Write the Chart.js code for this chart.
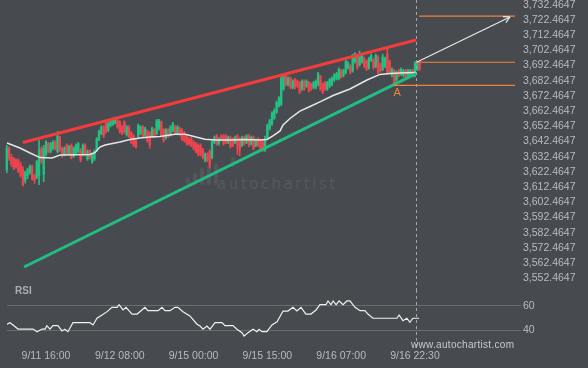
<!DOCTYPE html>
<html>
<head>
<meta charset="utf-8">
<script src="https://cdn.jsdelivr.net/npm/chart.js@4.4.1/dist/chart.umd.min.js"></script>
<style>
  html, body { margin: 0; padding: 0; background: #474a4f; }
  #wrap { position: relative; width: 588px; height: 368px; overflow: hidden; background: #474a4f;
          font-family: "Liberation Sans", Arial, sans-serif; }
  canvas { position: absolute; left: 0; }
  #main { top: 0; }
  #rsi { top: 290px; }
  .txt { position: absolute; white-space: nowrap; }
  #watermark { left: 217px; top: 175px; font: 15px "DejaVu Sans"; letter-spacing: 2.5px; color: #56595e; line-height: 18px; }
  .logo { position: absolute; width: 4px; background: #53565b; border-radius: 2px; }
  #rsiTitle { left: 15px; top: 285px; font-weight: bold; font-size: 10px; line-height: 12px; color: #a9acb1; }
  #site { left: 411px; top: 339px; font-size: 10px; line-height: 12px; letter-spacing: 0.3px; color: #c8cacd; }
</style>
</head>
<body>
<div id="wrap">
  <div class="logo" style="left:186px;top:178px;height:7px"></div>
  <div class="logo" style="left:193px;top:173px;height:12px"></div>
  <div class="logo" style="left:200px;top:168px;height:17px"></div>
  <div class="logo" style="left:207px;top:165px;height:20px"></div>
  <div class="logo" style="left:214px;top:163px;height:22px"></div>
  <div class="logo" style="left:231px;top:157px;height:10px"></div>
  <div id="watermark" class="txt">autochartist</div>
  <canvas id="main" width="588" height="290"></canvas>
  <canvas id="rsi" width="588" height="78"></canvas>
  <div id="rsiTitle" class="txt">RSI</div>
  <div id="site" class="txt">www.autochartist.com</div>
</div>
<script>
// time axis (30 min bars, index based)
const tickIndex  = [17, 49, 81, 113, 145, 177];
const tickLabels = ["9/11 16:00", "9/12 08:00", "9/15 00:00", "9/15 15:00", "9/16 07:00", "9/16 22:30"];
const priceTicks = [3552.4647, 3562.4647, 3572.4647, 3582.4647, 3592.4647, 3602.4647, 3612.4647,
  3622.4647, 3632.4647, 3642.4647, 3652.4647, 3662.4647, 3672.4647, 3682.4647, 3692.4647,
  3702.4647, 3712.4647, 3722.4647, 3732.4647];
const rsiTicks = [40, 60];

// open, high, low, close
const candles = [
  [3624,3640,3622,3638],[3638,3639,3630,3632],[3632,3634,3626,3628],[3631,3632,3624,3625],[3630,3631,3625,3626],
  [3630,3631,3622,3623],[3627,3629,3619,3620],[3624,3626,3613,3614],[3617,3623,3615,3622],[3620,3625,3618,3624],
  [3622,3627,3621,3626],[3626,3627,3617,3618],[3620,3621,3615,3617],[3619,3630,3618,3629],[3620,3643,3614,3637],
  [3637,3639,3628,3630],[3621,3640,3616,3638],[3634,3643,3633,3642],[3641,3642,3635,3636],[3636,3642,3635,3641],
  [3638,3643,3637,3642],[3642,3643,3637,3638],[3636,3649,3635,3646],[3645,3646,3636,3637],[3638,3639,3632,3633],
  [3634,3639,3633,3638],[3640,3641,3634,3635],[3635,3640,3634,3639],[3640,3641,3631,3632],[3633,3639,3632,3638],
  [3635,3641,3634,3640],[3636,3642,3635,3641],[3637,3638,3629,3630],[3634,3641,3633,3640],[3640,3641,3633,3634],
  [3631,3637,3630,3636],[3636,3637,3631,3632],[3629,3635,3628,3634],[3631,3637,3630,3636],[3637,3645,3636,3644],
  [3644,3650,3643,3649],[3648,3653,3647,3652],[3652,3653,3645,3646],[3654,3655,3648,3649],[3650,3655,3649,3654],
  [3653,3657,3652,3656],[3654,3658,3653,3657],[3655,3658.5,3654,3658],[3656,3657,3651,3652],[3655,3656,3648,3649],
  [3652,3653,3647,3648],[3655,3656,3648,3649],[3647,3653,3646,3652],[3652,3653,3645,3646],[3648,3649,3641,3642],
  [3646,3647,3639,3640],[3643,3644,3638,3639],[3646,3654,3645,3653],[3648,3653,3647,3652],[3652,3653,3645,3646],
  [3647,3652,3646,3651],[3649,3650,3642,3643],[3648,3649,3638,3640],[3646,3652,3645,3651],[3650,3651,3645,3646],
  [3648,3657,3647,3656],[3651,3657,3650,3656],[3655,3656,3646,3647],[3650,3651,3642,3643],[3645,3651,3644,3650],
  [3650,3651,3645,3646],[3647,3653,3646,3652],[3650,3655,3649,3654],[3652,3653,3647,3648],[3648,3653,3647,3652],
  [3651,3652,3646,3647],[3650,3651,3643,3644],[3648,3649,3642,3643],[3646,3647,3640,3641],[3644,3645,3640,3641],
  [3644,3645,3639,3640],[3642,3643,3637,3638],[3641,3642,3635,3636],[3640,3641,3633,3634],[3640,3641,3633,3634],
  [3637,3638,3631,3632],[3630,3635,3629,3634],[3634,3635,3629,3630],[3636,3637,3625,3627],[3632,3643,3631,3642],
  [3642,3646,3641,3645],[3646,3647,3640,3641],[3641,3645,3640,3644],[3646,3647,3643,3644],[3646,3647,3640,3641],
  [3646,3647,3641,3642],[3642,3646,3641,3645],[3645,3646,3638,3639],[3644,3645,3639,3640],[3642,3646,3641,3645],
  [3646,3647,3634,3640],[3644,3645,3633,3637],[3640,3646,3639,3645],[3645,3646,3640,3641],[3642,3647,3641,3646],
  [3646,3647,3639,3640],[3641,3646,3640,3645],[3645,3646,3637,3638],[3640,3644,3639,3643],[3644,3645,3639,3640],
  [3643,3644,3637,3638],[3642,3643,3636,3637],[3637,3646,3636,3645],[3645,3654,3644,3653],[3651,3657,3650,3656],
  [3654,3662,3653,3661],[3658,3664,3657,3663],[3662,3669,3661,3668],[3666,3672,3665,3671],[3667,3686,3666,3684],
  [3677,3686.5,3676,3685],[3686,3687,3679,3680],[3680,3685,3679,3684],[3684,3685,3677,3678],[3678,3683,3677,3682],
  [3683,3684,3677,3678],[3682,3683,3678,3679],[3681,3682,3674,3675],[3677,3683,3676,3682],[3682,3683,3676,3677],
  [3679,3683,3678,3682],[3681,3682,3675,3676],[3680,3681,3676,3677],[3678,3682,3677,3681],[3678,3683,3677,3682],
  [3680,3688,3679,3687],[3685,3686,3676,3677],[3680,3681,3674,3675],[3681,3682,3676,3677],[3677,3682,3676,3681],
  [3679,3684,3678,3683],[3680,3685,3679,3684],[3683,3687,3682,3686],[3684,3688,3683,3687],[3684,3691,3683,3690],
  [3689,3690,3684,3685],[3686,3690,3685,3689],[3688,3697,3687,3695],[3691,3695,3690,3694],[3692,3693,3687,3688],
  [3689,3700,3688,3699],[3695,3701,3694,3700],[3699,3700,3690,3691],[3693,3702,3692,3700],[3695,3700,3694,3699],
  [3697,3698,3691,3692],[3695,3696,3689,3690],[3691,3698,3690,3697],[3696,3700,3695,3699],[3696,3697,3690,3691],
  [3692,3700,3691,3699],[3698,3699,3687,3688],[3693,3694,3688,3689],[3690,3700,3689,3698],[3692,3698,3691,3697],
  [3700,3704,3687,3688],[3695,3696,3687,3688],[3686,3691,3685,3690],[3689,3690,3679.5,3681],[3683,3689,3682,3688],
  [3689,3690,3685,3686],[3687,3691,3686,3690],[3686,3690,3685,3689],[3689,3690,3685,3686],[3686,3690,3685,3689],
  [3687,3690,3686,3689],[3689,3690,3685,3686],[3687,3695,3685,3694],[3690,3695,3689,3694],[3694,3695,3689,3690]
];

// moving average (bar index, price)
const maX = [0.1,5.7,10.1,14.4,19.6,23.1,36.1,38.2,40.4,42.6,49.1,53.4,57.8,62.1,66.4,72.9,77.3,81.6,85.9,90.3,
  96.8,103.3,109.8,112.8,115.4,118.5,119.8,122.8,127.1,131.5,135.8,141.5,148.8,156.2,161.8,166.2,170.5,177.5];
const maY = [3641.5,3638.2,3634.9,3631.9,3631.6,3633.6,3633.9,3635.1,3638.8,3640.2,3642.1,3643.8,3644.8,3645.4,
  3645.8,3647.2,3647.2,3645.6,3643.9,3643.5,3643.5,3643.8,3643.5,3643.8,3646.1,3649.4,3653.3,3657.6,3662.5,
  3665.5,3668.5,3672.7,3677.0,3682.9,3686.6,3687.2,3687.5,3687.9];

// RSI (bar index, value)
const rsiX = [0.1,1.4,2.7,4.9,11.4,13.1,15.3,16.6,17.4,18.7,20.0,22.2,23.9,25.2,26.5,28.7,36.1,37.4,39.1,41.3,
  43.5,45.6,47.8,48.7,50.4,51.7,54.3,56.5,58.6,59.9,61.2,65.6,67.3,68.6,70.8,72.9,74.2,76.4,79.4,82.5,
  83.8,85.1,86.8,88.1,90.3,93.3,94.6,98.1,99.8,102.0,102.9,104.6,106.8,108.5,109.4,110.7,112.8,115.0,117.2,119.8,
  121.9,124.1,125.8,127.6,129.7,131.9,134.1,135.8,138.4,139.3,140.6,141.5,142.8,144.1,145.8,147.5,148.8,151.0,153.2,155.3,
  156.6,158.8,169.2,170.1,171.8,173.5,174.8,176.1,178.8];
const rsiY = [44.8,46.1,44.2,40.8,40.8,38.6,40.8,40.8,43.6,40.8,43.6,43.6,39.2,40.6,38.6,46.1,46.1,44.2,49.8,52.5,
  55.3,58.9,58.9,61.1,56.7,58.9,53.3,53.3,56.7,58.9,56.1,56.1,58.9,56.1,56.1,58.9,58.9,55.3,51.7,44.8,
  43.3,40.6,43.3,40.6,46.1,46.1,43.6,43.6,40.6,37.8,35.0,37.8,40.6,38.6,40.6,38.6,38.6,44.2,46.9,55.8,
  55.8,58.9,55.8,58.9,53.3,53.3,56.7,61.1,61.1,64.2,61.1,64.2,61.1,64.2,61.1,64.2,64.2,58.9,56.1,56.1,
  53.3,49.8,49.8,52.5,47.8,49.8,46.4,49.8,49.8];

// rising wedge pattern
const resistance = [[7.0, 3641.8], [177.5, 3709.2]];
const support    = [[7.5, 3559.9], [177.5, 3687.1]];
const levelStart  = [178.8, 177.5, 167.5];
const levelPrices = [3725.0, 3694.6, 3679.4];
const levelEnd    = 220.4;
const arrowLine   = [[177.9, 3694.8], [218.2, 3724.4]];
const pointA      = [167.5, 3679.4];
const nowIndex    = 177.5;

const GREEN = "#22c283", RED = "#f0454f", ORANGE = "#f5823c";
const LABEL = "#b8bbbf";
Chart.defaults.font.family = "'Liberation Sans', Arial, sans-serif";

// page layout: bar i sits at X0 + i*STEP px, price p at (PTOP - p)*PPX px,
// rsi v at RSI60 - (v - 60)*RPX px (page coordinates)
const X0 = 6.8, STEP = 2.306;
const PTOP = 3735.557, PPX = 1.52;
const RSI60 = 306, RPX = 1.2, RSI_TOP = 290;

const pts = arr => arr.map(([x, y]) => ({ x, y }));
const upColor = ctx => {
  const c = candles[ctx.dataIndex];
  return c && c[3] >= c[0] ? GREEN : RED;
};
const fmt = v => Number(v).toLocaleString("en-US", { minimumFractionDigits: 4, maximumFractionDigits: 4 });

// match the scales to the page layout once the chart area is known
function calibrate(chart, toValue, offsetTop) {
  const a = chart.chartArea;
  const sx = chart.options.scales.x, sy = chart.options.scales.y;
  sx.min = (a.left - X0) / STEP;
  sx.max = (a.right - X0) / STEP;
  sy.max = toValue(offsetTop + a.top);
  sy.min = toValue(offsetTop + a.bottom);
  chart.update();
}

// dashed "now" line
const nowLine = {
  id: "nowLine",
  afterDatasetsDraw(chart, args, opts) {
    const c = chart.ctx;
    const x = Math.round(chart.scales.x.getPixelForValue(nowIndex)) + 0.5;
    const bottom = opts.bottom === "area" ? chart.chartArea.bottom + 4 : chart.height;
    c.save();
    c.strokeStyle = "#a3a6ab";
    c.lineWidth = 1;
    c.setLineDash([3, 3]);
    c.beginPath();
    c.moveTo(x, 0);
    c.lineTo(x, bottom);
    c.stroke();
    c.restore();
  }
};

// arrow head + "A" marker
const annotate = {
  id: "annotate",
  afterDatasetsDraw(chart) {
    const c = chart.ctx;
    const meta = chart.getDatasetMeta(chart.data.datasets.findIndex(d => d.label === "arrow"));
    const p0 = meta.data[0], p1 = meta.data[1];
    const ang = Math.atan2(p0.y - p1.y, p0.x - p1.x);
    c.save();
    c.strokeStyle = "#e8e8e8";
    c.lineWidth = 1.2;
    c.beginPath();
    [0.5, -0.5].forEach(d => {
      c.moveTo(p1.x, p1.y);
      c.lineTo(p1.x + 7 * Math.cos(ang + d), p1.y + 7 * Math.sin(ang + d));
    });
    c.stroke();
    c.fillStyle = ORANGE;
    c.font = "11px 'Liberation Sans', Arial";
    c.textAlign = "center";
    c.textBaseline = "top";
    c.fillText("A", chart.scales.x.getPixelForValue(pointA[0]) + 4, chart.scales.y.getPixelForValue(pointA[1]) + 2);
    c.restore();
  }
};

const datasets = [
  { type: "bar", label: "wick", data: candles.map((c, i) => ({ x: i, y: [c[2], c[1]] })),
    backgroundColor: upColor, barThickness: 1, grouped: false, order: 9 },
  { type: "bar", label: "body", data: candles.map((c, i) => ({ x: i, y: [c[0], c[3]] })),
    backgroundColor: upColor, barThickness: 1.7, minBarLength: 1, grouped: false, order: 8 },
  { type: "line", label: "ma", data: maX.map((x, i) => ({ x, y: maY[i] })),
    borderColor: "#e6e6e6", borderWidth: 1.5, pointRadius: 0, order: 5 },
  { type: "line", label: "resistance", data: pts(resistance),
    borderColor: "#f43c3c", borderWidth: 3, pointRadius: 0, order: 3 },
  { type: "line", label: "support", data: pts(support),
    borderColor: "#20be82", borderWidth: 3, pointRadius: 0, order: 3 },
  ...levelPrices.map((p, k) => ({
    type: "line", label: "level" + k, data: [{ x: levelStart[k], y: p }, { x: levelEnd, y: p }],
    borderColor: ORANGE, borderWidth: 1.2, pointRadius: 0, order: 2 })),
  { type: "line", label: "arrow", data: pts(arrowLine),
    borderColor: "#e8e8e8", borderWidth: 1.2, pointRadius: 0, order: 1 }
];

const mainChart = new Chart(document.getElementById("main"), {
  type: "bar",
  data: { datasets },
  options: {
    responsive: false,
    animation: false,
    layout: { autoPadding: false, padding: 0 },
    plugins: { legend: { display: false }, tooltip: { enabled: false }, nowLine: { bottom: "full" } },
    scales: {
      x: { type: "linear", min: -3, max: 222, offset: false, display: false },
      y: {
        position: "right", min: 3545, max: 3735,
        grid: { display: false, drawTicks: false },
        border: { display: false },
        afterBuildTicks: s => { s.ticks = priceTicks.map(v => ({ value: v })); },
        afterFit: s => { s.width = 70; },
        ticks: { autoSkip: false, color: LABEL, font: { size: 10.5 }, padding: 5, callback: v => fmt(v) }
      }
    }
  },
  plugins: [nowLine, annotate]
});
calibrate(mainChart, y => PTOP - y / PPX, 0);

const rsiChart = new Chart(document.getElementById("rsi"), {
  type: "line",
  data: { datasets: [{ data: rsiX.map((x, i) => ({ x, y: rsiY[i] })),
    borderColor: "#f0f0f0", borderWidth: 1.2, pointRadius: 0 }] },
  options: {
    responsive: false,
    animation: false,
    layout: { autoPadding: false, padding: { left: 7, top: 8 } },
    plugins: { legend: { display: false }, tooltip: { enabled: false }, nowLine: { bottom: "area" } },
    scales: {
      x: {
        type: "linear", min: 0, max: 223, offset: false,
        grid: { display: false, drawTicks: false },
        border: { display: false },
        afterBuildTicks: s => { s.ticks = tickIndex.map(v => ({ value: v })); },
        afterFit: s => { s.height = 25; },
        ticks: { autoSkip: false, maxRotation: 0, color: LABEL, font: { size: 10.5 }, padding: 7,
                 callback: (v, i) => tickLabels[i] }
      },
      y: {
        position: "right", min: 29, max: 67,
        grid: { color: "#686b70", drawTicks: false },
        border: { display: false },
        afterBuildTicks: s => { s.ticks = rsiTicks.map(v => ({ value: v })); },
        afterFit: s => { s.width = 67; },
        ticks: { autoSkip: false, color: LABEL, font: { size: 10.5 }, padding: 2 }
      }
    }
  },
  plugins: [nowLine]
});
calibrate(rsiChart, y => 60 + (RSI60 - y) / RPX, RSI_TOP);
</script>
</body>
</html>
